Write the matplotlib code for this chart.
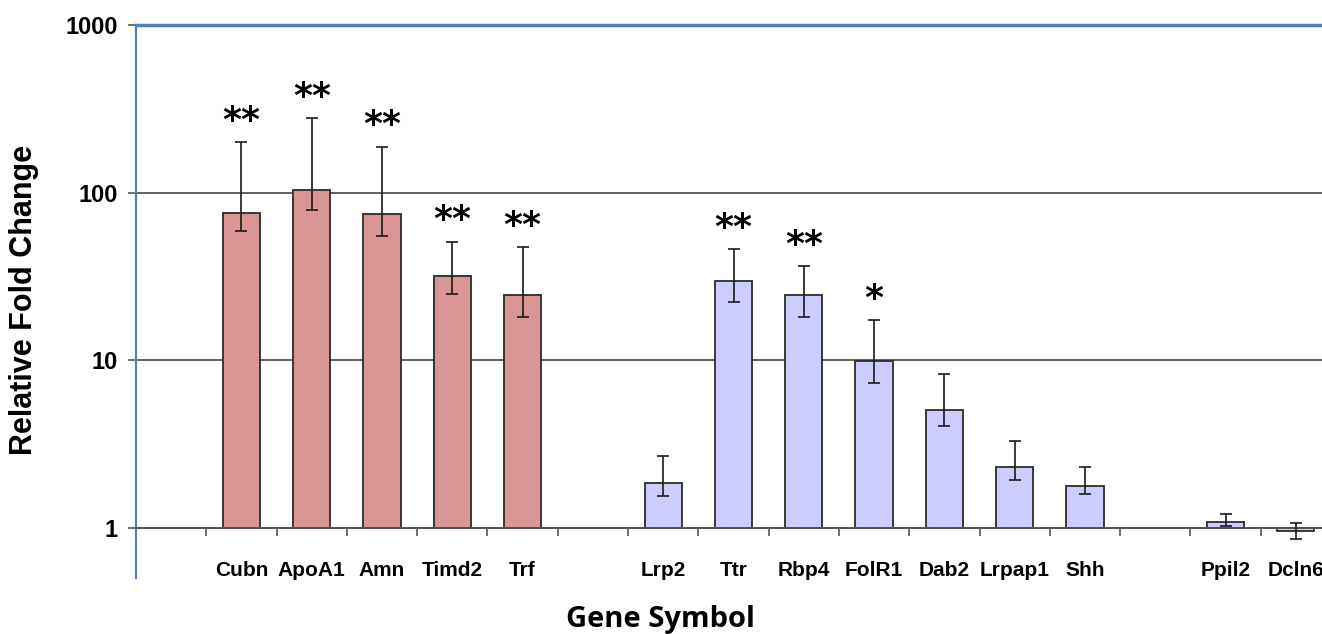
import numpy as np
import matplotlib.pyplot as plt
from matplotlib.ticker import FixedLocator

plt.rcParams['font.family'] = ['Liberation Sans', 'DejaVu Sans']

# blank entries are the gaps between gene groups, like the original Excel chart
genes = ['', 'Cubn', 'ApoA1', 'Amn', 'Timd2', 'Trf',
         '', 'Lrp2', 'Ttr', 'Rbp4', 'FolR1', 'Dab2', 'Lrpap1', 'Shh',
         '', 'Ppil2', 'Dcln6']
fold = [np.nan, 75, 104, 74, 31.6, 24.4,
        np.nan, 1.85, 29.5, 24.4, 9.9, 5.0, 2.3, 1.78,
        np.nan, 1.08, 0.96]
err_hi = [np.nan, 199, 279, 188, 51, 47,
          np.nan, 2.68, 45.8, 36.3, 17.3, 8.26, 3.3, 2.3,
          np.nan, 1.21, 1.07]
err_lo = [np.nan, 58.6, 79, 55, 24.7, 18,
          np.nan, 1.55, 22.1, 18, 7.3, 4.05, 1.93, 1.59,
          np.nan, 1.02, 0.86]
stars = ['', '**', '**', '**', '**', '**',
         '', '', '**', '**', '*', '', '', '',
         '', '', '']
group = ['', 'a', 'a', 'a', 'a', 'a',
         '', 'b', 'b', 'b', 'b', 'b', 'b', 'b',
         '', 'b', 'b']

colors = {'a': '#D99694', 'b': '#CCCCFF'}
label_font = ['Liberation Sans Narrow', 'Liberation Sans']

fig = plt.figure(figsize=(13.22, 6.34), dpi=100)
ax = fig.add_axes([136/1322, 56/634, 1195/1322, 553/634])

x = np.arange(len(genes))
fold = np.array(fold, dtype=float)
err_hi = np.array(err_hi, dtype=float)
err_lo = np.array(err_lo, dtype=float)
ok = ~np.isnan(fold)

bar_cols = [colors[g] for g in np.array(group)[ok]]
ax.bar(x[ok], fold[ok] - 1, bottom=1, width=0.53, color=bar_cols,
       edgecolor='#2b2b2b', linewidth=1.3, zorder=2)
ax.errorbar(x[ok], fold[ok],
            yerr=[fold[ok] - err_lo[ok], err_hi[ok] - fold[ok]],
            fmt='none', ecolor='#1a1a1a', elinewidth=1.2, capsize=4,
            capthick=1.2, zorder=3)

for xi, s, top in zip(x, stars, err_hi):
    if s:
        ax.annotate(s, (xi, top), xytext=(0, 3), textcoords='offset points',
                    ha='center', va='bottom', fontsize=26, fontweight='bold',
                    family='DejaVu Sans')

ax.set_yscale('log')
ax.set_ylim(0.5, 1000)
ax.set_xlim(-0.5, len(genes) - 0.5)

# spine position first: moving it resets the ticks
ax.spines['bottom'].set_position(('data', 1))
ax.spines['bottom'].set_color('#555555')
ax.spines['bottom'].set_linewidth(1.3)
ax.spines['left'].set_color('#4F81BD')
ax.spines['left'].set_linewidth(1.6)
ax.spines['top'].set_color('#4F81BD')
ax.spines['top'].set_linewidth(2.5)
ax.spines['right'].set_visible(False)

ax.set_yticks([1, 10, 100, 1000])
ax.set_yticklabels(['1', '10', '100', '1000'], family=label_font,
                   fontweight='bold', fontsize=17)
ax.yaxis.set_minor_locator(FixedLocator([]))
ax.tick_params(axis='y', length=6, width=1.2, color='#555555', pad=7)

ax.set_xticks(x)
ax.set_xticklabels(genes, family=label_font, fontweight='bold', fontsize=15)
ax.xaxis.set_minor_locator(FixedLocator(x[1:] - 0.5))
ax.tick_params(axis='x', which='major', length=0, pad=24)
ax.tick_params(axis='x', which='minor', length=6, width=1.2, color='#555555')

ax.grid(axis='y', which='major', color='#555555', linewidth=1.3)
ax.set_axisbelow(True)

fig.text(24/1322, 1 - 300/634, 'Relative Fold Change', rotation=90,
         ha='center', va='center', fontsize=22, fontweight='bold')
fig.text(660/1322, 1 - 619/634, 'Gene Symbol', ha='center', va='center',
         fontsize=21, fontweight='bold', family='Open Sans')

fig.savefig('out.png', dpi=100)
